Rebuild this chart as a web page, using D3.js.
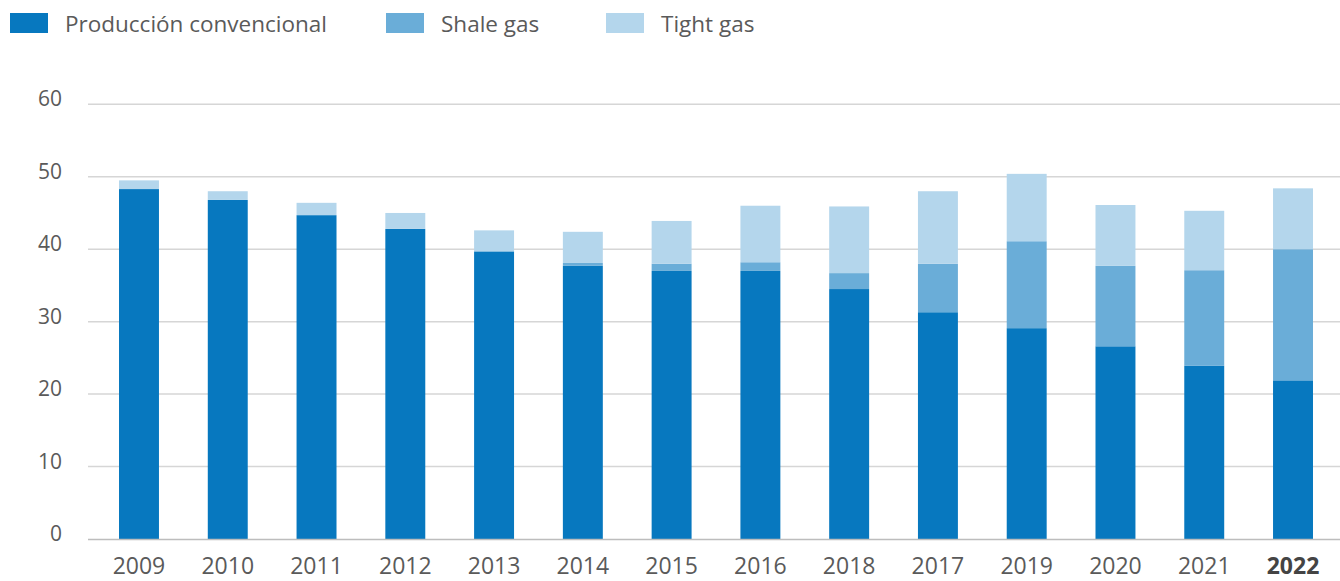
<!DOCTYPE html>
<html>
<head>
<meta charset="utf-8">
<script src="https://cdn.jsdelivr.net/npm/d3@7"></script>
<style>
  html, body { margin: 0; padding: 0; background: #fff; }
  svg { display: block; font-family: "Open Sans", sans-serif; }
</style>
</head>
<body>
<svg id="chart" width="1340" height="581"></svg>
<script>
const categories = ["2009","2010","2011","2012","2013","2014","2015","2016","2018","2017","2019","2020","2021","2022"];
const convencional = [48.3, 46.8, 44.7, 42.8, 39.7, 37.7, 37.0, 37.0, 34.5, 31.3, 29.1, 26.6, 23.9, 21.9];
const shale        = [0, 0, 0, 0, 0, 0.4, 1.0, 1.2, 2.2, 6.7, 12.0, 11.1, 13.2, 18.1];
const tight        = [1.2, 1.2, 1.7, 2.2, 2.9, 4.3, 5.9, 7.8, 9.2, 10.0, 9.3, 8.4, 8.2, 8.4];
const yTicks = [0, 10, 20, 30, 40, 50, 60];
const seriesNames = ["Producción convencional", "Shale gas", "Tight gas"];
const seriesKeys = ["conv", "shale", "tight"];
const colors = ["#0778BF", "#6AADD8", "#B4D6EC"];

const svg = d3.select("#chart");
const x = d3.scaleBand().domain(categories).range([94.6, 1337.4]).paddingInner(0.55).paddingOuter(0.275);
const y = d3.scaleLinear().domain([0, 60]).range([539, 104.3]);

// gridlines
svg.append("g").selectAll("line").data(yTicks.filter(d => d > 0)).join("line")
  .attr("x1", 88).attr("x2", 1340)
  .attr("y1", d => y(d)).attr("y2", d => y(d))
  .attr("stroke", "#d6d6d6").attr("stroke-width", 1.5);

// y labels
svg.append("g").selectAll("text").data(yTicks).join("text")
  .attr("x", 62).attr("y", d => y(d) + 2)
  .attr("text-anchor", "end")
  .attr("font-size", 21).attr("fill", "#5a5a5a")
  .text(d => d);

// stacked bars
const table = categories.map((c, i) => ({cat: c, conv: convencional[i], shale: shale[i], tight: tight[i]}));
const stack = d3.stack().keys(seriesKeys)(table);
svg.append("g").selectAll("g").data(stack).join("g")
  .attr("fill", (d, i) => colors[i])
  .selectAll("rect").data(d => d).join("rect")
  .attr("x", d => x(d.data.cat))
  .attr("width", x.bandwidth())
  .attr("y", d => y(d[1]))
  .attr("height", d => Math.max(0, y(d[0]) - y(d[1])));

// x axis line
svg.append("line").attr("x1", 88).attr("x2", 1340).attr("y1", 539.5).attr("y2", 539.5)
  .attr("stroke", "#bdbdbd").attr("stroke-width", 1.5);

// x labels
svg.append("g").selectAll("text").data(categories).join("text")
  .attr("x", d => x(d) + x.bandwidth() / 2).attr("y", 574)
  .attr("text-anchor", "middle")
  .attr("font-size", 23)
  .attr("font-weight", (d, i) => i === categories.length - 1 ? 700 : 400)
  .attr("fill", (d, i) => i === categories.length - 1 ? "#444" : "#5a5a5a")
  .text(d => d);

// legend
const legendX = [10, 386, 606];
const lg = svg.append("g").selectAll("g").data(seriesNames).join("g")
  .attr("transform", (d, i) => `translate(${legendX[i]},0)`);
lg.append("rect").attr("x", 0).attr("y", 13).attr("width", 38).attr("height", 20)
  .attr("fill", (d, i) => colors[i]);
lg.append("text").attr("x", 55).attr("y", 32)
  .attr("font-size", 22.5).attr("fill", "#5a5a5a")
  .text(d => d);
</script>
</body>
</html>
